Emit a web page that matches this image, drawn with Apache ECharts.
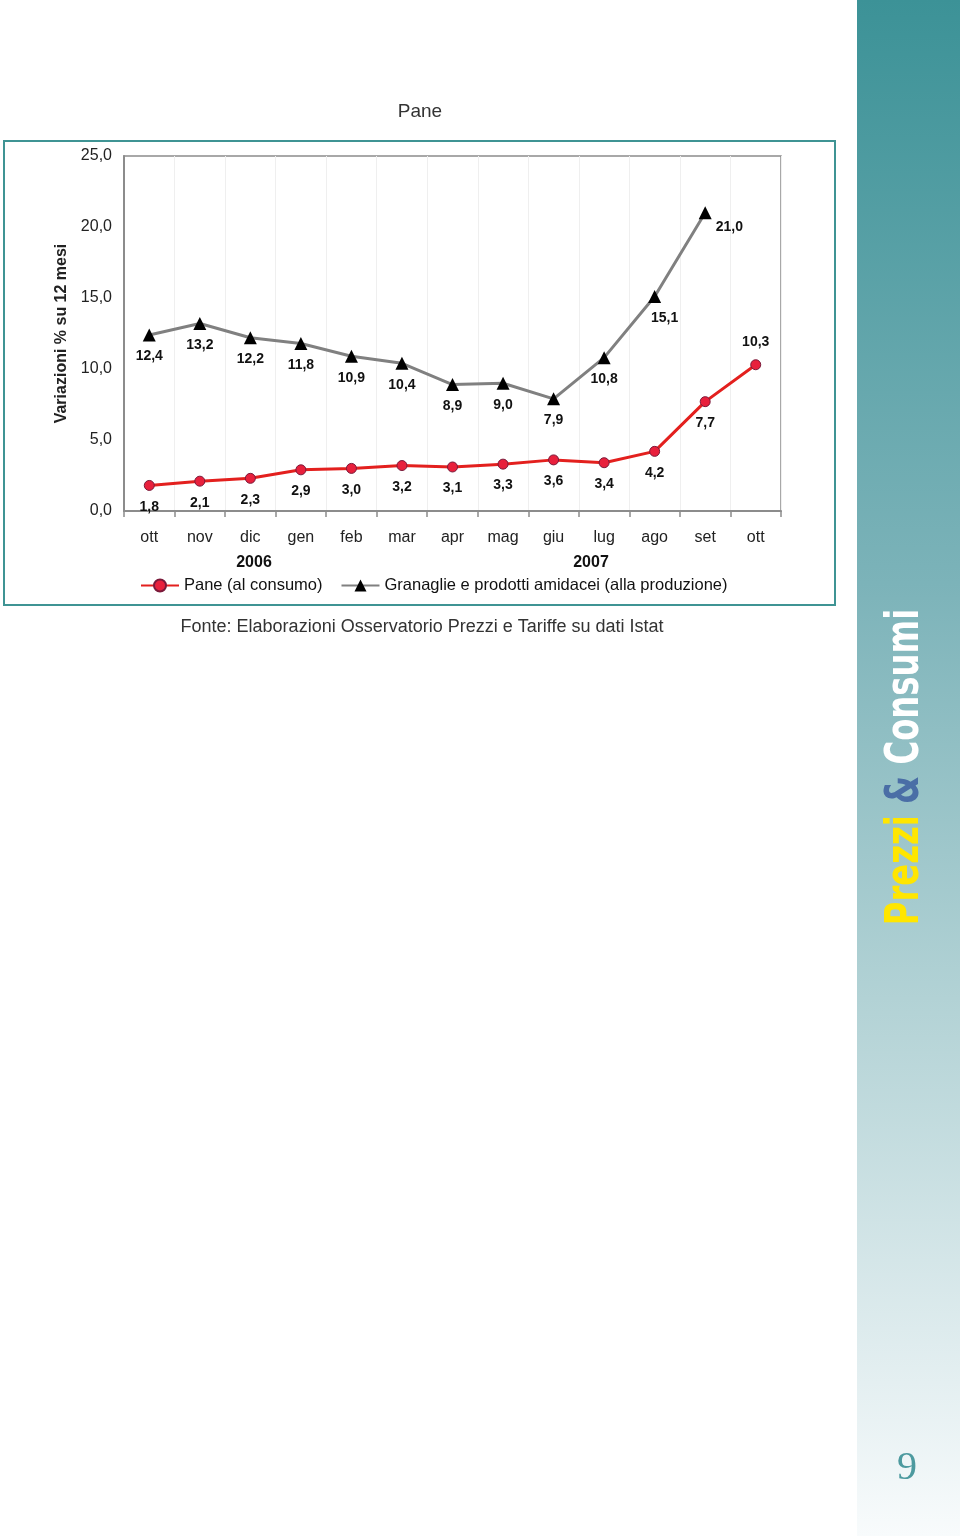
<!DOCTYPE html>
<html>
<head>
<meta charset="utf-8">
<script src="https://cdn.jsdelivr.net/npm/echarts@6/dist/echarts.min.js"></script>
<style>
html,body{margin:0;padding:0;background:#fff;}
#chart{width:960px;height:1536px;}
</style>
</head>
<body>
<div id="chart"></div>
<script>
const categories = ['ott','nov','dic','gen','feb','mar','apr','mag','giu','lug','ago','set','ott'];
const paneValues = [1.8,2.1,2.3,2.9,3.0,3.2,3.1,3.3,3.6,3.4,4.2,7.7,10.3];
const granaglieValues = [12.4,13.2,12.2,11.8,10.9,10.4,8.9,9.0,7.9,10.8,15.1,21.0];
const yearLabels = ['2006','2007'];
const seriesNames = ['Pane (al consumo)','Granaglie e prodotti amidacei (alla produzione)'];
const titleText = 'Pane';
const yAxisName = 'Variazioni % su 12 mesi';
const sourceText = 'Fonte: Elaborazioni Osservatorio Prezzi e Tariffe su dati Istat';

const fmt = v => v.toFixed(1).replace('.', ',');
const FONT = 'Liberation Sans, Arial, sans-serif';

const paneData = paneValues.map((v,i) => i === paneValues.length-1
  ? {value:v, label:{position:'top', distance:10}} : v);
const granData = granaglieValues.map((v,i) => {
  if (i === granaglieValues.length-1) return {value:v, label:{position:'right', distance:4, offset:[0,14]}};
  if (i === granaglieValues.length-2) return {value:v, label:{offset:[10,0]}};
  return v;
});

const chart = echarts.init(document.getElementById('chart'), null, {renderer:'canvas'});
chart.setOption({
  backgroundColor:'#ffffff',
  animation:false,
  textStyle:{fontFamily:FONT},
  grid:{left:124, top:156, width:657, height:355, show:true, borderColor:'#8c8c8c', borderWidth:1.5, backgroundColor:'transparent'},
  legend:{
    left:135, top:572, itemWidth:38, itemHeight:15, itemGap:18,
    textStyle:{fontSize:16.5, color:'#111', fontFamily:FONT},
    data:seriesNames
  },
  xAxis:{
    type:'category', data:categories, boundaryGap:true,
    axisLine:{lineStyle:{color:'#8c8c8c', width:2}},
    axisTick:{show:true, length:6, lineStyle:{color:'#8c8c8c', width:1.5}},
    axisLabel:{fontSize:16, color:'#222', margin:19, interval:0},
    splitLine:{show:true, interval:0, lineStyle:{color:'#efefef', width:1}}
  },
  yAxis:{
    type:'value', min:0, max:25, interval:5,
    name:yAxisName, nameLocation:'middle', nameGap:53, nameRotate:90,
    nameTextStyle:{fontSize:16, fontWeight:'bold', color:'#222'},
    axisLine:{show:true, lineStyle:{color:'#8c8c8c', width:2}},
    axisTick:{show:false},
    axisLabel:{fontSize:16, color:'#222', margin:12, formatter:v => fmt(v)},
    splitLine:{show:false}
  },
  series:[
    {
      name:seriesNames[0], type:'line', data:paneData,
      lineStyle:{color:'#e3201e', width:3},
      itemStyle:{color:'#e8203c', borderColor:'#7a1a3a', borderWidth:1},
      symbol:'circle', symbolSize:10, z:3,
      label:{show:true, position:'bottom', distance:9, formatter:p => fmt(p.value), fontSize:14, fontWeight:'bold', color:'#111'}
    },
    {
      name:seriesNames[1], type:'line', data:granData,
      lineStyle:{color:'#808080', width:3},
      itemStyle:{color:'#000000', borderWidth:0},
      symbol:'triangle', symbolSize:13, z:2,
      label:{show:true, position:'bottom', distance:8, formatter:p => fmt(p.value), fontSize:14, fontWeight:'bold', color:'#111'}
    }
  ],
  graphic:[
    {type:'rect', shape:{x:857, y:0, width:103, height:1536}, silent:true, z:-10,
     style:{fill:new echarts.graphic.LinearGradient(0,0,0,1,[
       {offset:0, color:'#3c9297'},
       {offset:0.38, color:'#7cb3b9'},
       {offset:0.65, color:'#b2d2d5'},
       {offset:0.9, color:'#e4eff1'},
       {offset:1, color:'#f8fbfc'}
     ])}},
    {type:'rect', shape:{x:4, y:141, width:831, height:464}, silent:true, z:-5,
     style:{fill:'none', stroke:'#3f9494', lineWidth:2}},
    {type:'text', x:420, y:112, silent:true,
     style:{text:titleText, fontSize:19, fill:'#333', align:'center', verticalAlign:'middle', fontFamily:FONT}},
    {type:'text', x:254, y:563, silent:true,
     style:{text:yearLabels[0], fontSize:16, fontWeight:'bold', fill:'#111', align:'center', verticalAlign:'middle', fontFamily:FONT}},
    {type:'text', x:591, y:563, silent:true,
     style:{text:yearLabels[1], fontSize:16, fontWeight:'bold', fill:'#111', align:'center', verticalAlign:'middle', fontFamily:FONT}},
    {type:'text', x:422, y:627, silent:true,
     style:{text:sourceText, fontSize:18, fill:'#333', align:'center', verticalAlign:'middle', fontFamily:FONT}},
    {type:'text', x:906, y:767, rotation:Math.PI/2, scaleX:0.78, silent:true,
     style:{text:'{a|Prezzi} {b|&} {c|Consumi}', align:'center', verticalAlign:'middle',
       rich:{
         a:{fontSize:46, fontWeight:'bold', fill:'#ffe600', fontFamily:'DejaVu Sans Condensed, DejaVu Sans, sans-serif'},
         b:{fontSize:46, fontWeight:'bold', fill:'#4a6ea6', fontFamily:'DejaVu Sans Condensed, DejaVu Sans, sans-serif'},
         c:{fontSize:46, fontWeight:'bold', fill:'#ffffff', fontFamily:'DejaVu Sans Condensed, DejaVu Sans, sans-serif'}
       },
       fontSize:46, fontWeight:'bold', fontFamily:'DejaVu Sans Condensed, DejaVu Sans, sans-serif'}},
    {type:'text', x:907, y:1468, silent:true,
     style:{text:'9', fontSize:40, fill:'#4d9a9f', align:'center', verticalAlign:'middle', fontFamily:'Liberation Serif, DejaVu Serif, serif'}}
  ]
});
</script>
</body>
</html>
